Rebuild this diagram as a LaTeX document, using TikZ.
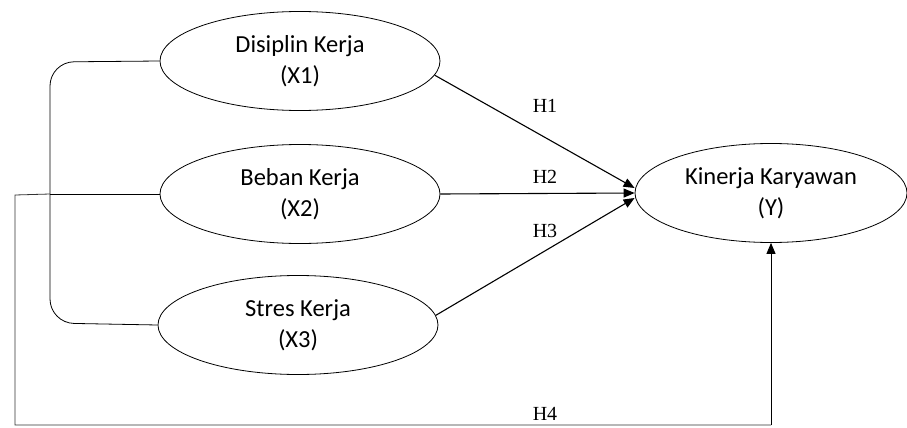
\documentclass[tikz,border=0pt]{standalone}
\usepackage{fontspec}
\setmainfont{Carlito}
\newfontfamily\hfont{Liberation Serif}
\usetikzlibrary{shapes.geometric,arrows.meta}
\tikzset{
  var/.style={draw, ellipse, line width=0.8pt, minimum width=280pt, minimum height=99pt,
    inner sep=0pt, align=center, font=\fontsize{24.5}{31}\selectfont},
  hyp/.style={font=\hfont\fontsize{20}{22}\selectfont},
  arr/.style={line width=1.1pt, -{Triangle[length=11pt,width=9pt]}}
}
\begin{document}
\begin{tikzpicture}[x=1pt,y=-1pt]
 		\useasboundingbox (0,0) rectangle (907,428);
 		\node[var] (X1) at (300,61) {Disiplin Kerja\\(X1)};
 		\node[var] (X2) at (300,194) {Beban Kerja\\(X2)};
 		\node[var] (X3) at (298,325) {Stres Kerja\\(X3)};
 		\node[var, minimum width=272pt] (Y) at (771,193) {Kinerja Karyawan\\(Y)};
 		
 		\coordinate (J) at (50,194);
 		\coordinate (L) at (15,195);
 		\coordinate (B) at (771,425);
 		
 		\draw[line width=0.8pt, rounded corners=24pt] (X1.west) -- (50,62) -- (50,323) -- (X3.west);
 		\draw[line width=0.8pt] (X2.west) -- (J);
 		\draw[line width=0.8pt, black!80] (J) -- (L) -- (15,425) -- (B);
 		\draw[arr, line width=0.9pt] (B) -- (Y.south);
 		
 		\draw[arr] (X1.-6) -- ([yshift=5pt]Y.west);
 		\draw[arr] (X2.east) -- (Y.west);
 		\draw[arr] (X3.4) -- ([yshift=-5pt]Y.west);
 		
 		\node[hyp] (H1) at (545,106) {H1};
 		\node[hyp] (H2) at (545,177) {H2};
 		\node[hyp] (H3) at (545,231) {H3};
 		\node[hyp] (H4) at (545,414) {H4};
 		
 	\end{tikzpicture}
\end{document}
